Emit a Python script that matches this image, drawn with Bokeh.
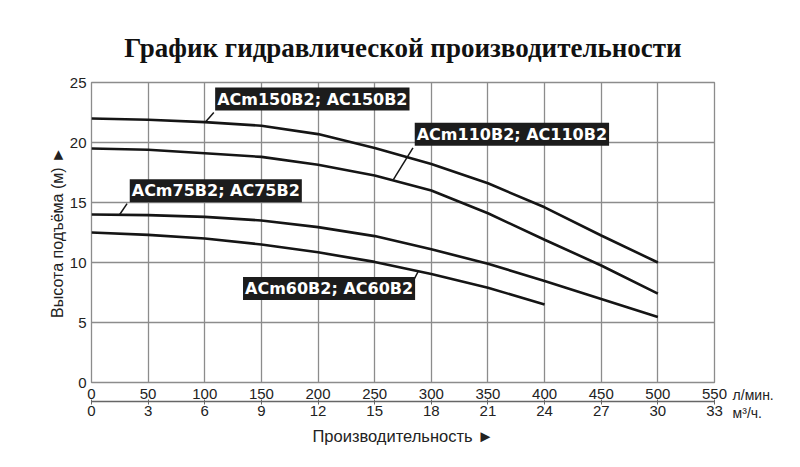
from bokeh.plotting import figure
from bokeh.models import (Range1d, LinearAxis, FixedTicker, Label, Title)
from bokeh.embed import file_html
from bokeh.resources import INLINE

# ---- data ----
flow_lpm = [0, 50, 100, 150, 200, 250, 300, 350, 400, 450, 500]
head_150 = [22.0, 21.9, 21.7, 21.4, 20.7, 19.55, 18.2, 16.6, 14.6, 12.25, 10.0]
head_110 = [19.5, 19.4, 19.1, 18.8, 18.15, 17.25, 16.0, 14.1, 11.9, 9.75, 7.4]
head_75 = [14.0, 13.95, 13.8, 13.5, 12.95, 12.2, 11.1, 9.9, 8.45, 6.95, 5.45]
flow_60 = [0, 50, 100, 150, 200, 250, 300, 350, 400]
head_60 = [12.5, 12.3, 12.0, 11.5, 10.85, 10.05, 9.05, 7.9, 6.5]

lpm_ticks = [0, 50, 100, 150, 200, 250, 300, 350, 400, 450, 500, 550]
m3h_ticks = [0, 3, 6, 9, 12, 15, 18, 21, 24, 27, 30, 33]
head_ticks = [0, 5, 10, 15, 20, 25]

series_names = ["ACm150B2; AC150B2", "ACm110B2; AC110B2",
                "ACm75B2; AC75B2", "ACm60B2; AC60B2"]
# label anchors (flow, head) and leader line ends on the curves
label_pos = [(107.4, 22.5), (283.6, 19.56), (32.0, 14.85), (132.0, 6.7)]
leader_start = [(108.0, 22.5), (283.8, 19.56), (31.4, 14.9), (282.7, 8.22)]
leader_end = [(100.6, 21.7), (266.5, 16.9), (24.9, 14.0), (288.5, 9.27)]

unit_texts = ["л/мин.", "м³/ч."]
unit_pos = [(566.0, -1.0), (566.0, -2.55)]

TXT = "#222222"
GRID = "#8c8c8c"

p = figure(width=784, height=451, output_backend="svg", toolbar_location=None,
           x_range=Range1d(0, 550), y_range=Range1d(0, 25),
           min_border_left=91, min_border_right=70, min_border_top=82,
           min_border_bottom=69)
p.title = Title(text="График гидравлической производительности", align="center",
                text_font="Liberation Serif", text_font_style="bold",
                text_font_size="27px", text_color="#111111", standoff=40,
                offset=6)
p.outline_line_color = GRID
p.outline_line_width = 1.3
p.background_fill_color = "white"
p.border_fill_color = "white"

# primary x axis (л/мин.)
xa = p.xaxis[0]
xa.ticker = FixedTicker(ticks=lpm_ticks)
xa.axis_line_color = None
xa.major_tick_in = 0
xa.major_tick_out = 0
xa.minor_tick_line_color = None
xa.major_label_standoff = 6
xa.major_label_text_font = "Liberation Sans"
xa.major_label_text_font_size = "15px"
xa.major_label_text_color = TXT

# secondary x axis (м³/ч.)
p.extra_x_ranges = {"m3h": Range1d(0, 33)}
xa2 = LinearAxis(x_range_name="m3h", ticker=FixedTicker(ticks=m3h_ticks))
xa2.axis_line_color = "#666666"
xa2.axis_line_width = 1.3
xa2.major_tick_line_color = "#666666"
xa2.major_tick_in = 2
xa2.major_tick_out = 3
xa2.minor_tick_line_color = None
xa2.major_label_standoff = 1
xa2.major_label_text_font = "Liberation Sans"
xa2.major_label_text_font_size = "15px"
xa2.major_label_text_color = TXT
xa2.axis_label = "Производительность ►"
xa2.axis_label_standoff = 8
xa2.axis_label_text_font = "Liberation Sans"
xa2.axis_label_text_font_size = "16.5px"
xa2.axis_label_text_font_style = "normal"
xa2.axis_label_text_color = TXT
p.add_layout(xa2, "below")

ya = p.yaxis[0]
ya.ticker = FixedTicker(ticks=head_ticks)
ya.axis_line_color = None
ya.major_tick_in = 0
ya.major_tick_out = 0
ya.minor_tick_line_color = None
ya.major_label_standoff = 5
ya.major_label_text_font = "Liberation Sans"
ya.major_label_text_font_size = "15px"
ya.major_label_text_color = TXT
ya.axis_label = "Высота подъёма (м) ►"
ya.axis_label_standoff = 1
ya.axis_label_text_font = "Liberation Sans"
ya.axis_label_text_font_size = "16px"
ya.axis_label_text_font_style = "normal"
ya.axis_label_text_color = TXT

p.xgrid.ticker = FixedTicker(ticks=lpm_ticks)
p.ygrid.ticker = FixedTicker(ticks=head_ticks)
for g in (p.xgrid, p.ygrid):
    g.grid_line_color = GRID
    g.grid_line_width = 1.3
    g.grid_line_alpha = 1.0

# curves
for xs, ys in [(flow_lpm, head_150), (flow_lpm, head_110),
               (flow_lpm, head_75), (flow_60, head_60)]:
    p.line(xs, ys, line_color="#151515", line_width=2.6)

# leader lines
p.segment(x0=[s[0] for s in leader_start], y0=[s[1] for s in leader_start],
          x1=[e[0] for e in leader_end], y1=[e[1] for e in leader_end],
          line_color="#151515", line_width=1.5)

# series labels
for name, (lx, ly) in zip(series_names, label_pos):
    p.add_layout(Label(x=lx, y=ly, text=name, text_align="left",
                       text_baseline="bottom", text_font="DejaVu Sans",
                       text_font_style="bold", text_font_size="16px",
                       text_color="white", background_fill_color="#1c1c1c",
                       padding=2, x_offset=2, y_offset=2))

# unit labels, placed in the right side panel so they are not clipped
for txt, (ux, uy) in zip(unit_texts, unit_pos):
    p.add_layout(Label(x=ux, y=uy, text=txt, text_align="left",
                       text_baseline="middle", text_font="Liberation Sans",
                       text_font_size="14px", text_color=TXT), "right")

open("out.html", "w").write(file_html(p, INLINE))
